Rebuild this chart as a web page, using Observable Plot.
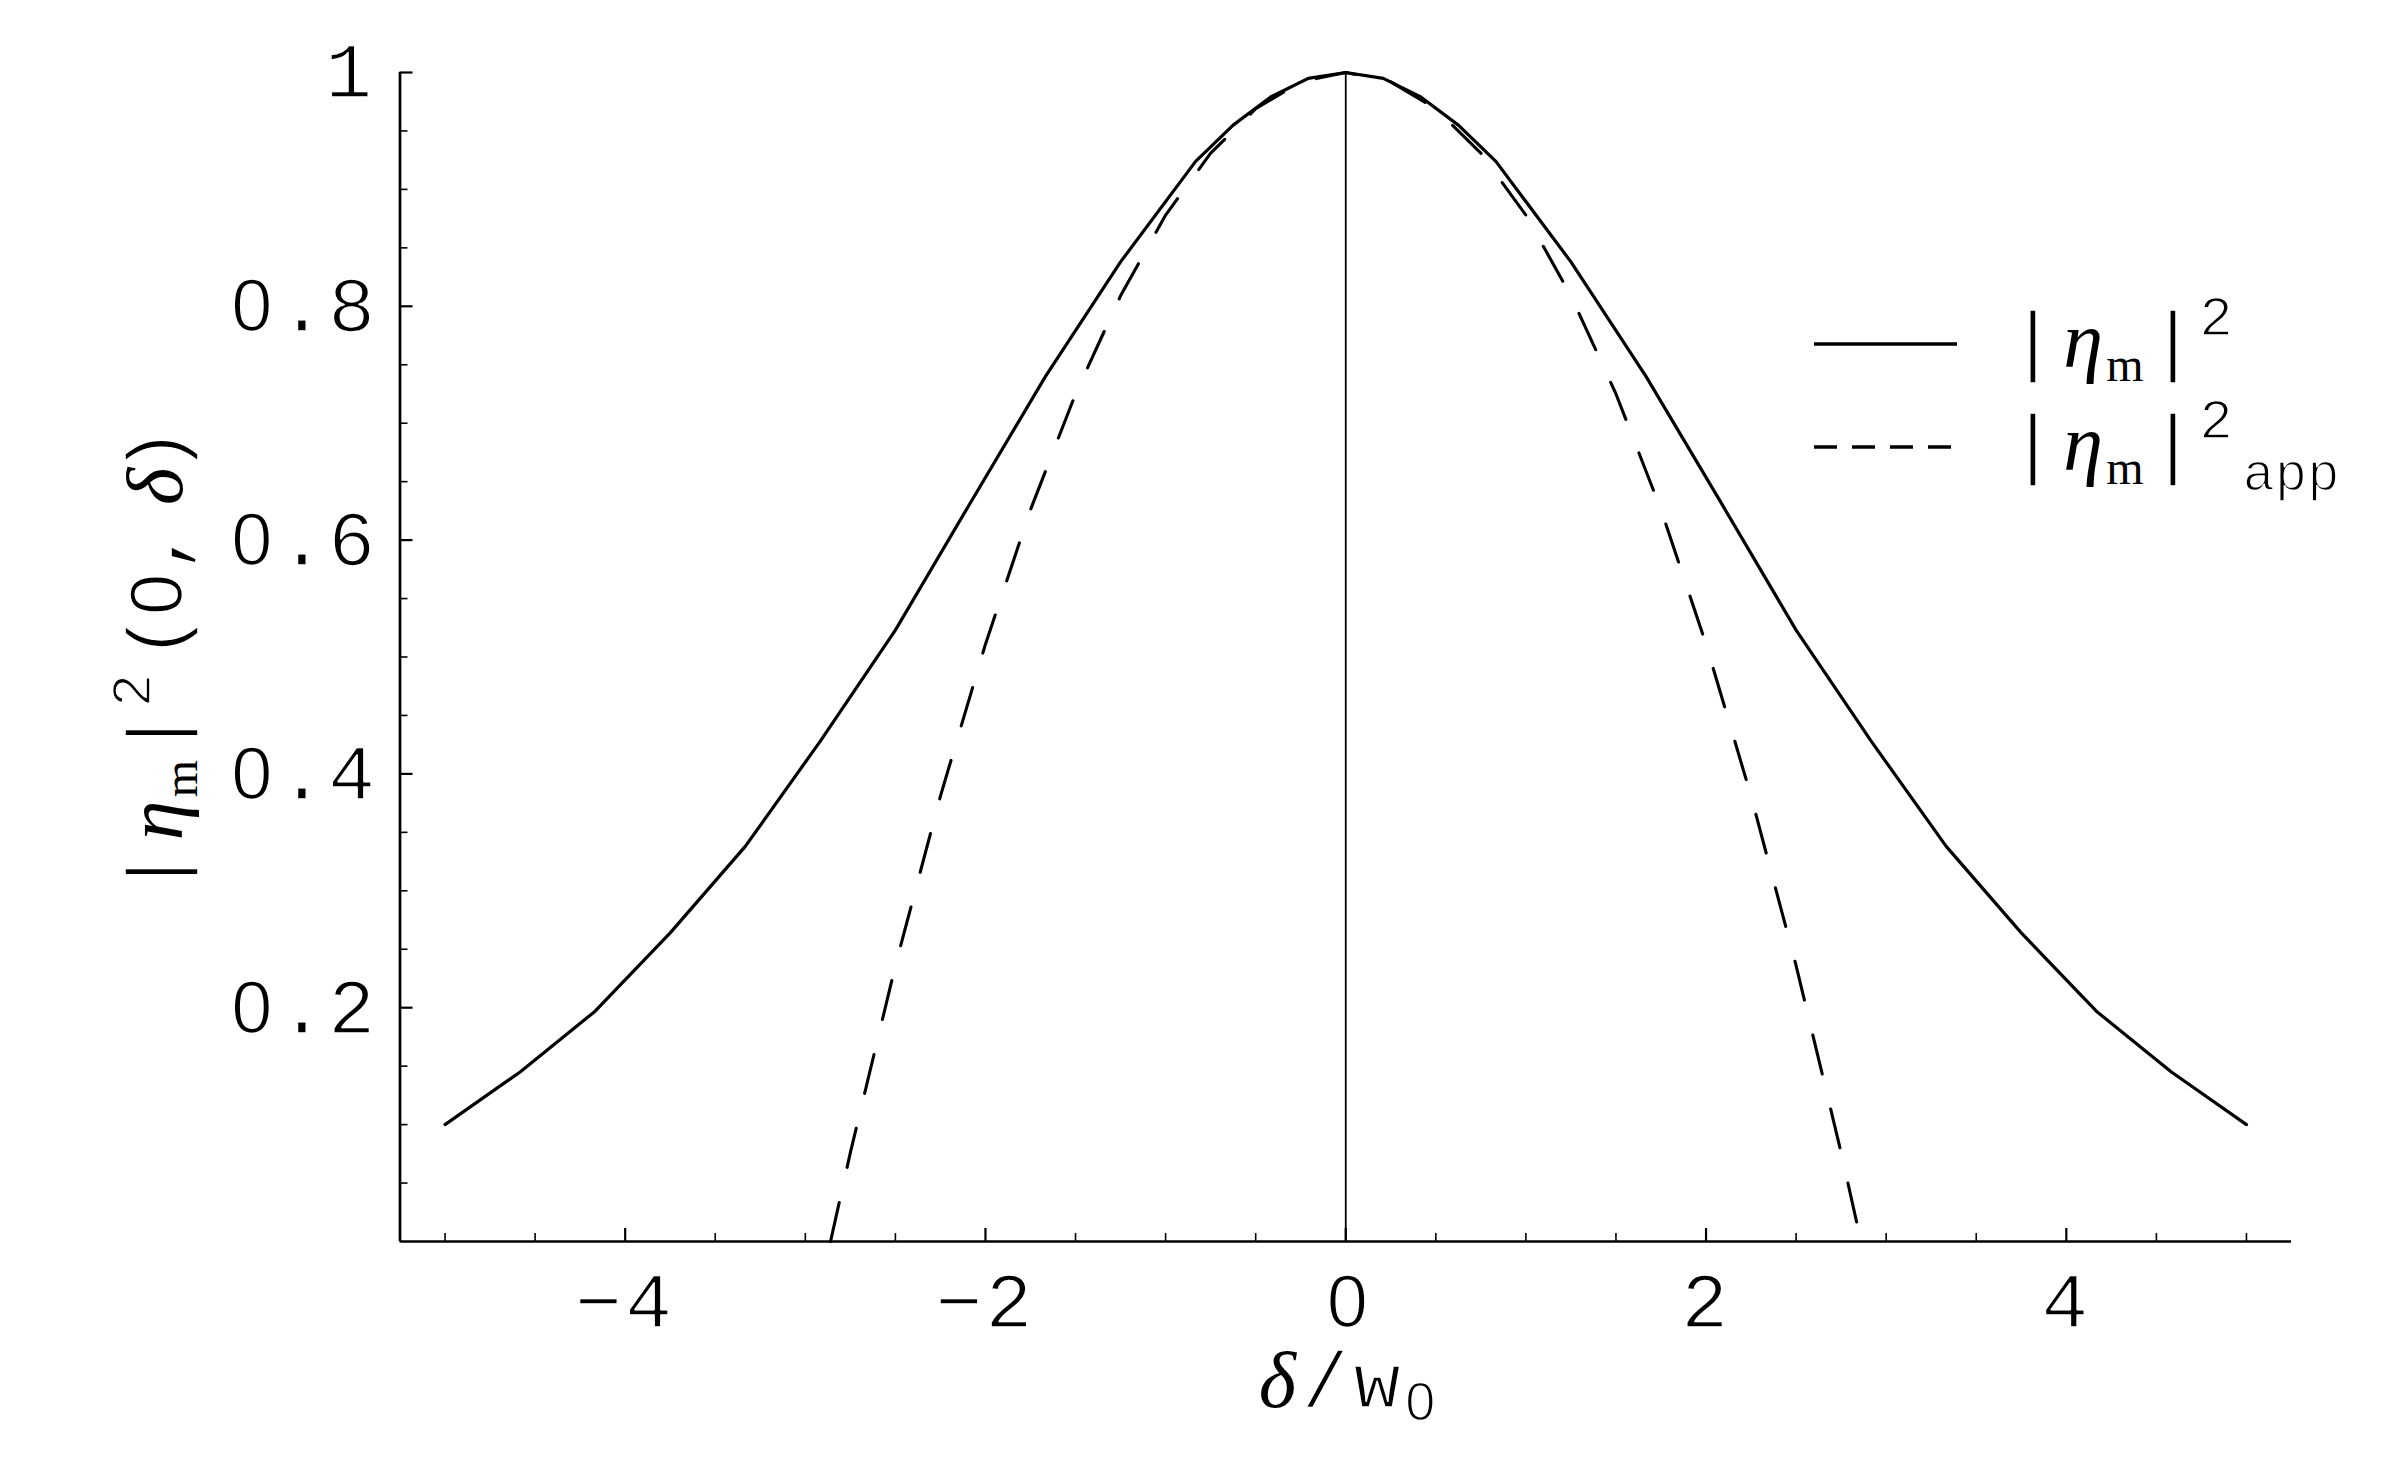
<!DOCTYPE html>
<html><head><meta charset="utf-8">
<script src="https://cdn.jsdelivr.net/npm/d3@7"></script>
<script src="https://cdn.jsdelivr.net/npm/@observablehq/plot@0.6"></script>
<style>
html,body{margin:0;padding:0;background:#fff} svg{display:block}
.thin{stroke:#fff;stroke-width:1.6px;paint-order:normal;stroke-linejoin:round}
</style>
</head><body><div id="chart"></div>
<script>
// ---- data ----
const solidX = [-5, -4.5833, -4.1667, -3.75, -3.3333, -2.9167, -2.5, -2.0833, -1.6667, -1.25, -0.8333, -0.625, -0.4167, -0.2083, 0,
                0.2083, 0.4167, 0.625, 0.8333, 1.25, 1.6667, 2.0833, 2.5, 2.9167, 3.3333, 3.75, 4.1667, 4.5833, 5];
const solidY = [0.100, 0.145, 0.197, 0.264, 0.338, 0.428, 0.523, 0.632, 0.740, 0.838, 0.924, 0.955, 0.979, 0.995, 1,
                0.995, 0.979, 0.955, 0.924, 0.838, 0.740, 0.632, 0.523, 0.428, 0.338, 0.264, 0.197, 0.145, 0.100];
const dashX = [-2.86, -2.75, -2.5, -2.25, -2, -1.75, -1.5, -1.25, -1, -0.75, -0.5, -0.25, 0,
               0.25, 0.5, 0.75, 1, 1.25, 1.5, 1.75, 2, 2.25, 2.5, 2.75, 2.86];
const dashY = [0, 0.076, 0.236, 0.381, 0.511, 0.626, 0.725, 0.809, 0.878, 0.931, 0.969, 0.992, 1,
               0.992, 0.969, 0.931, 0.878, 0.809, 0.725, 0.626, 0.511, 0.381, 0.236, 0.076, 0];
const xMajor = [-4, -2, 0, 2, 4];
const xLabels = ["\u22124", "\u22122", "0", "2", "4"];
const xMinor = [-5, -4.5, -3.5, -3, -2.5, -1.5, -1, -0.5, 0.5, 1, 1.5, 2.5, 3, 3.5, 4.5, 5];
const yMajor = [0.2, 0.4, 0.6, 0.8, 1];
const yLabels = ["0.2", "0.4", "0.6", "0.8", "1"];
const yMinor = [0.05, 0.1, 0.15, 0.25, 0.3, 0.35, 0.45, 0.5, 0.55, 0.65, 0.7, 0.75, 0.85, 0.9, 0.95];
const xDomain = [-5.25, 5.25];
const yDomain = [0, 1];
const seriesNames = ["solid", "approx"];

const solid = solidX.map((x, i) => ({x, y: solidY[i]}));
const approx = dashX.map((x, i) => ({x, y: dashY[i]}));

const MONO = "Liberation Mono";
const SANS = "Liberation Sans";
const SERIF = "Liberation Serif";
const FS = 78;

const plot = Plot.plot({
  width: 2400, height: 1483,
  marginLeft: 399.5, marginRight: 109, marginTop: 72, marginBottom: 242,
  x: {domain: xDomain, axis: null},
  y: {domain: yDomain, axis: null},
  style: {background: "white", color: "black"},
  marks: [
    Plot.ruleX([0], {stroke: "black", strokeWidth: 1.8}),
    Plot.line(solid, {x: "x", y: "y", stroke: "black", strokeWidth: 3.2, strokeLinejoin: "round"}),
    Plot.line(approx, {x: "x", y: "y", stroke: "black", strokeWidth: 3.1, strokeDasharray: "40 36", strokeLinejoin: "round"}),
    // axes
    Plot.ruleY([yDomain[0]], {stroke: "black", strokeWidth: 2.7}),
    Plot.ruleX([xDomain[0]], {stroke: "black", strokeWidth: 2.7}),
    // x ticks (inward)
    Plot.ruleX(xMajor, {x: d => d, y1: yDomain[0], y2: yDomain[0], insetTop: -13, stroke: "black", strokeWidth: 2.2}),
    Plot.ruleX(xMinor, {x: d => d, y1: yDomain[0], y2: yDomain[0], insetTop: -8, stroke: "black", strokeWidth: 1.6}),
    // y ticks (inward)
    Plot.ruleY(yMajor, {y: d => d, x1: xDomain[0], x2: xDomain[0], insetRight: -13, stroke: "black", strokeWidth: 2.2}),
    Plot.ruleY(yMinor, {y: d => d, x1: xDomain[0], x2: xDomain[0], insetRight: -8, stroke: "black", strokeWidth: 1.6}),
    // tick labels
    Plot.text(xMajor, {x: d => d, y: yDomain[0], text: (d, i) => xLabels[i], dy: 61, fontSize: FS, fontFamily: MONO, fill: "black"}),
    Plot.text(yMajor, {x: xDomain[0], y: d => d, text: (d, i) => yLabels[i], textAnchor: "end", dx: -25, fontSize: FS, fontFamily: MONO, fill: "black"})
  ]
});

document.getElementById("chart").appendChild(plot);
const svg = d3.select(plot);

// tick labels: monospaced look, plain (undotted) zero
svg.selectAll("text").each(function () {
  const el = d3.select(this).attr("letter-spacing", 3).classed("thin", true);
  const s = this.textContent;
  if (!s.includes("0")) return;
  this.textContent = "";
  let pad = 0;
  for (const ch of s) {
    const t = el.append("tspan").text(ch);
    if (ch === "0") {
      t.attr("font-family", SANS).attr("font-size", 74).attr("dx", 3);
      pad = 3;
    } else {
      if (pad) t.attr("dx", pad);
      pad = 0;
    }
  }
});

const sx = plot.scale("x"), sy = plot.scale("y");

function glyphs(list, transform) {
  const t = svg.append("text").attr("text-anchor", "middle").attr("fill", "black");
  if (transform) t.attr("transform", transform);
  for (const g of list) {
    const s = t.append("tspan").attr("x", g.x).attr("y", g.y)
      .attr("font-family", g.f).attr("font-size", g.s).text(g.c);
    if (g.i) s.attr("font-style", "italic");
    if (g.f !== SERIF) s.classed("thin", true);
  }
}

// y-axis title  |η_m|^2 (0,δ)  (rotated)
const ycx = 182, ycy = (sy.apply(0) + sy.apply(1)) / 2 + 8;
glyphs([
  {c: "|", x: -207, y: 0, f: MONO, s: FS},
  {c: "\u03b7", x: -156, y: 0, f: SERIF, s: 80, i: true},
  {c: "m", x: -114, y: 15, f: SERIF, s: 48},
  {c: "|", x: -68, y: 0, f: MONO, s: FS},
  {c: "2", x: -26, y: -32, f: MONO, s: 56},
  {c: "(", x: 28, y: 0, f: MONO, s: FS},
  {c: "0", x: 70, y: 0, f: SANS, s: 74},
  {c: ",", x: 115, y: 0, f: MONO, s: FS},
  {c: "\u03b4", x: 178, y: 0, f: SERIF, s: 80, i: true},
  {c: ")", x: 214, y: 0, f: MONO, s: FS}
], `translate(${ycx},${ycy}) rotate(-90)`);

// x-axis title  δ/w_0
const x0 = sx.apply(0);
const xb = 1407;
glyphs([
  {c: "\u03b4", x: x0 - 68, y: xb, f: SERIF, s: 80, i: true},
  {c: "/", x: x0 - 20, y: xb, f: MONO, s: FS},
  {c: "w", x: x0 + 32, y: xb, f: MONO, s: FS},
  {c: "0", x: x0 + 75, y: xb + 13, f: SANS, s: 54}
]);

// legend
const legX1 = 1814, legX2 = 1957;
const rows = [{y: 344, dash: null, name: seriesNames[0]}, {y: 447, dash: "23 15", name: seriesNames[1]}];
const lg = svg.append("g");
for (const r of rows) {
  const ln = lg.append("line").attr("x1", legX1).attr("x2", legX2).attr("y1", r.y).attr("y2", r.y)
    .attr("stroke", "black").attr("stroke-width", 3.3);
  if (r.dash) ln.attr("stroke-dasharray", r.dash);
  const b = r.y + 23;
  const list = [
    {c: "|", x: 2033, y: b, f: MONO, s: FS},
    {c: "\u03b7", x: 2083, y: b, f: SERIF, s: 80, i: true},
    {c: "m", x: 2125, y: b + 14, f: SERIF, s: 48},
    {c: "|", x: 2173, y: b, f: MONO, s: FS},
    {c: "2", x: 2216, y: b - 32, f: MONO, s: 56}
  ];
  if (r.dash) list.push({c: "app", x: 2291, y: b + 20, f: MONO, s: 54});
  glyphs(list);
}
</script>
</body></html>
